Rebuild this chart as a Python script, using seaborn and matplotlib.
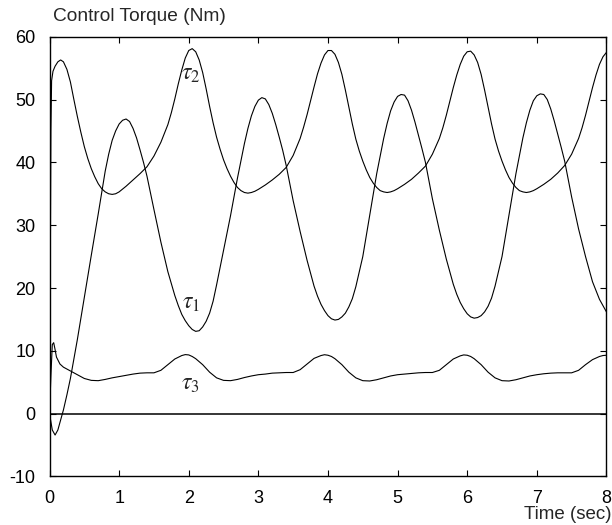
import numpy as np
import pandas as pd
import matplotlib
matplotlib.use("Agg")
import matplotlib.pyplot as plt
import seaborn as sns

# ---- torque histories (Nm) over time (sec) ----
t1 = [0, 0.04, 0.08, 0.12, 0.16, 0.2, 0.25, 0.3, 0.4, 0.5, 0.6, 0.7, 0.8, 0.85,
      0.9, 0.95, 1.0, 1.05, 1.1, 1.15, 1.2, 1.25, 1.3, 1.35, 1.4, 1.5, 1.6,
      1.7, 1.8, 1.85, 1.9, 1.95, 2.0, 2.05, 2.1, 2.15, 2.2, 2.25, 2.3, 2.35,
      2.4, 2.5, 2.6, 2.7, 2.8, 2.85, 2.9, 2.95, 3.0, 3.05, 3.1, 3.15, 3.2,
      3.25, 3.3, 3.35, 3.4, 3.5, 3.6, 3.7, 3.8, 3.85, 3.9, 3.95, 4.0, 4.05,
      4.1, 4.15, 4.2, 4.25, 4.3, 4.35, 4.4, 4.5, 4.6, 4.7, 4.8, 4.85, 4.9,
      4.95, 5.0, 5.05, 5.1, 5.15, 5.2, 5.25, 5.3, 5.35, 5.4, 5.5, 5.6, 5.7,
      5.8, 5.85, 5.9, 5.95, 6.0, 6.05, 6.1, 6.15, 6.2, 6.25, 6.3, 6.35, 6.4,
      6.5, 6.6, 6.7, 6.8, 6.85, 6.9, 6.95, 7.0, 7.05, 7.1, 7.15, 7.2, 7.25,
      7.3, 7.35, 7.4, 7.5, 7.6, 7.7, 7.8, 7.9, 8.0]
tau1 = [0, -2.6, -3.4, -2.6, -1.0, 0.6, 3.0, 5.6, 11.8, 18.5, 25.2, 31.8, 38.6,
        41.3, 43.5, 45.0, 46.1, 46.7, 46.9, 46.5, 45.4, 43.9, 42.0, 40.0, 37.8,
        32.5, 27.3, 22.6, 18.8, 17.2, 15.8, 14.8, 14.0, 13.4, 13.1, 13.2, 13.8,
        14.7, 16.0, 17.9, 20.5, 26.0, 31.5, 37.5, 43.0, 45.4, 47.4, 48.9, 49.9,
        50.3, 50.1, 49.2, 47.8, 46.0, 44.0, 41.9, 39.5, 33.9, 29.0, 24.4, 20.3,
        18.7, 17.4, 16.4, 15.6, 15.1, 14.9, 15.0, 15.4, 16.0, 17.0, 18.3, 20.2,
        25.0, 31.6, 38.2, 43.8, 46.2, 48.2, 49.6, 50.5, 50.8, 50.7, 49.8, 48.3,
        46.4, 44.3, 42.2, 40.0, 34.2, 29.2, 24.6, 20.6, 19.0, 17.7, 16.7, 15.9,
        15.4, 15.2, 15.3, 15.6, 16.2, 17.1, 18.4, 20.3, 25.0, 31.6, 38.2, 43.9,
        46.3, 48.3, 49.8, 50.6, 50.9, 50.8, 50.0, 48.5, 46.6, 44.5, 42.4, 40.2,
        34.5, 29.4, 25.0, 21.0, 18.2, 16.2]

t2 = [0, 0.01, 0.02, 0.03, 0.05, 0.08, 0.12, 0.16, 0.2, 0.25, 0.3, 0.35, 0.4,
      0.45, 0.5, 0.55, 0.6, 0.65, 0.7, 0.75, 0.8, 0.85, 0.9, 0.95, 1.0, 1.1,
      1.2, 1.3, 1.4, 1.5, 1.6, 1.7, 1.75, 1.8, 1.85, 1.9, 1.95, 2.0, 2.05,
      2.1, 2.15, 2.2, 2.25, 2.3, 2.35, 2.4, 2.45, 2.5, 2.55, 2.6, 2.65, 2.7,
      2.75, 2.8, 2.85, 2.9, 2.95, 3.0, 3.1, 3.2, 3.3, 3.4, 3.5, 3.6, 3.65,
      3.7, 3.75, 3.8, 3.85, 3.9, 3.95, 4.0, 4.05, 4.1, 4.15, 4.2, 4.25, 4.3,
      4.35, 4.4, 4.45, 4.5, 4.55, 4.6, 4.65, 4.7, 4.75, 4.8, 4.85, 4.9, 4.95,
      5.0, 5.1, 5.2, 5.3, 5.4, 5.5, 5.6, 5.65, 5.7, 5.75, 5.8, 5.85, 5.9,
      5.95, 6.0, 6.05, 6.1, 6.15, 6.2, 6.25, 6.3, 6.35, 6.4, 6.45, 6.5, 6.55,
      6.6, 6.65, 6.7, 6.75, 6.8, 6.85, 6.9, 6.95, 7.0, 7.1, 7.2, 7.3, 7.4,
      7.5, 7.6, 7.65, 7.7, 7.75, 7.8, 7.85, 7.9, 7.95, 8.0]
tau2 = [0, 20.0, 45.0, 53.0, 54.5, 55.3, 56.0, 56.3, 56.0, 54.8, 52.8, 50.0,
        47.3, 44.8, 42.5, 40.6, 39.0, 37.7, 36.6, 35.8, 35.3, 35.0, 34.9, 35.0,
        35.3, 36.2, 37.2, 38.2, 39.3, 41.0, 43.2, 46.0, 47.9, 50.1, 52.5, 54.7,
        56.6, 57.8, 58.1, 57.6, 56.3, 54.3, 51.7, 48.9, 46.3, 44.0, 42.1, 40.4,
        39.0, 37.8, 36.8, 36.0, 35.5, 35.2, 35.1, 35.2, 35.4, 35.7, 36.4, 37.2,
        38.1, 39.2, 41.1, 43.8, 45.6, 47.6, 49.8, 52.0, 54.1, 55.8, 57.1, 57.8,
        57.8, 57.2, 55.9, 54.0, 51.5, 48.8, 46.1, 43.7, 41.8, 40.2, 38.8, 37.6,
        36.7, 36.0, 35.5, 35.3, 35.2, 35.3, 35.5, 35.8, 36.5, 37.3, 38.3, 39.4,
        41.3, 43.8, 45.5, 47.5, 49.7, 51.9, 53.9, 55.6, 56.9, 57.6, 57.7, 57.1,
        55.9, 54.0, 51.5, 48.8, 46.1, 43.7, 41.8, 40.2, 38.8, 37.6, 36.7, 36.0,
        35.5, 35.3, 35.2, 35.3, 35.5, 35.8, 36.5, 37.3, 38.3, 39.5, 41.3, 43.8,
        45.5, 47.5, 49.7, 51.9, 53.9, 55.6, 56.8, 57.5]

t3 = [0, 0.02, 0.04, 0.06, 0.08, 0.1, 0.15, 0.2, 0.3, 0.4, 0.5, 0.6, 0.7, 0.8,
      0.9, 1.0, 1.1, 1.2, 1.3, 1.4, 1.5, 1.6, 1.7, 1.8, 1.9, 1.95, 2.0, 2.05,
      2.1, 2.2, 2.3, 2.4, 2.5, 2.6, 2.7, 2.8, 2.9, 3.0, 3.1, 3.2, 3.3, 3.4,
      3.5, 3.6, 3.7, 3.8, 3.9, 3.95, 4.0, 4.05, 4.1, 4.2, 4.3, 4.4, 4.5, 4.6,
      4.7, 4.8, 4.9, 5.0, 5.1, 5.2, 5.3, 5.4, 5.5, 5.6, 5.7, 5.8, 5.9, 5.95,
      6.0, 6.05, 6.1, 6.2, 6.3, 6.4, 6.5, 6.6, 6.7, 6.8, 6.9, 7.0, 7.1, 7.2,
      7.3, 7.4, 7.5, 7.6, 7.7, 7.8, 7.9, 7.95, 8.0]
tau3 = [0, 6.0, 11.0, 11.3, 10.2, 9.0, 7.9, 7.4, 6.8, 6.2, 5.6, 5.3, 5.25,
        5.45, 5.7, 5.9, 6.1, 6.3, 6.45, 6.5, 6.5, 6.9, 7.8, 8.7, 9.25, 9.4,
        9.35, 9.1, 8.75, 7.8, 6.6, 5.7, 5.3, 5.25, 5.45, 5.75, 6.0, 6.2, 6.3,
        6.45, 6.5, 6.55, 6.55, 7.0, 7.9, 8.8, 9.25, 9.38, 9.3, 9.1, 8.75, 7.8,
        6.6, 5.7, 5.25, 5.2, 5.4, 5.7, 6.0, 6.2, 6.3, 6.4, 6.5, 6.55, 6.55,
        6.9, 7.8, 8.7, 9.2, 9.35, 9.3, 9.1, 8.75, 7.8, 6.6, 5.7, 5.25, 5.2,
        5.4, 5.7, 6.0, 6.2, 6.35, 6.45, 6.5, 6.5, 6.5, 6.9, 7.8, 8.6, 9.1,
        9.25, 9.3]

curve_labels = [r"$\tau_1$", r"$\tau_2$", r"$\tau_3$"]
label_x = [2.04, 2.03, 2.03]
label_y = [17.6, 54.1, 4.7]

x_ticks = [0, 1, 2, 3, 4, 5, 6, 7, 8]
y_ticks = [-10, 0, 10, 20, 30, 40, 50, 60]

sns.set_theme(style="ticks")
plt.rcParams["font.family"] = ["Liberation Sans", "DejaVu Sans"]
plt.rcParams["mathtext.fontset"] = "stix"
plt.rcParams["axes.unicode_minus"] = False

fig = plt.figure(figsize=(6.12, 5.25), dpi=100)
ax = fig.add_axes([0.0809, 0.0924, 0.910, 0.8377])

for tt, vv in [(t1, tau1), (t2, tau2), (t3, tau3)]:
    df = pd.DataFrame({"t": tt, "v": vv})
    sns.lineplot(data=df, x="t", y="v", ax=ax, color="black", linewidth=0.8,
                 estimator=None, sort=False)

ax.axhline(0, color="black", linewidth=1.1)

for txt, lx, ly in zip(curve_labels, label_x, label_y):
    ax.text(lx, ly, txt, fontsize=17, ha="center", va="center")

ax.set_xlim(0, 8)
ax.set_ylim(-10, 60)
ax.set_xticks(x_ticks)
ax.set_yticks(y_ticks)
ax.set_xlabel("")
ax.set_ylabel("")
ax.tick_params(direction="in", length=4, width=0.8, top=True, right=True,
               labelsize=13, colors="black", pad=10)
for s in ax.spines.values():
    s.set_visible(True)
    s.set_linewidth(1.0)
    s.set_color("black")

fig.text(52.7 / 612, 1 - 21 / 525, "Control Torque (Nm)", fontsize=13.8,
         ha="left", va="baseline")
fig.text(611 / 612, 1 - 519 / 525, "Time (sec)", fontsize=13.5,
         ha="right", va="baseline")

fig.savefig("out.png", dpi=100)
